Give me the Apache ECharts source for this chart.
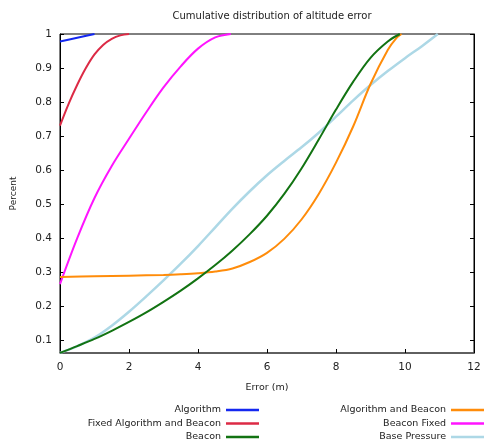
<!DOCTYPE html>
<html>
<head>
<meta charset="utf-8">
<script src="https://cdn.jsdelivr.net/npm/echarts@6/dist/echarts.min.js"></script>
<style>
  html, body { margin: 0; padding: 0; background: #fff; }
  #chart { width: 484px; height: 445px; }
</style>
</head>
<body>
<div id="chart"></div>
<script>
// Cumulative distribution of altitude error, one [error (m), fraction] list per method
const seriesNames = [
  'Algorithm',
  'Fixed Algorithm and Beacon',
  'Beacon',
  'Algorithm and Beacon',
  'Beacon Fixed',
  'Base Pressure'
];

const algorithm = [[0, 0.978], [0.5, 0.989], [1, 1.0]];

const fixedAlgorithmAndBeacon = [
  [0, 0.731], [0.25, 0.795], [0.5, 0.851], [0.75, 0.900], [1, 0.940],
  [1.25, 0.968], [1.5, 0.986], [1.75, 0.996], [2, 1.0]
];

const beacon = [
  [0, 0.063], [0.5, 0.083], [1, 0.104], [1.5, 0.128], [2, 0.154], [2.5, 0.182],
  [3, 0.213], [3.5, 0.246], [4, 0.282], [4.5, 0.321], [5, 0.364], [5.5, 0.412],
  [6, 0.466], [6.5, 0.530], [7, 0.605], [7.5, 0.690], [8, 0.778], [8.5, 0.860],
  [9, 0.930], [9.5, 0.978], [9.85, 1.0]
];

const algorithmAndBeacon = [
  [0, 0.286], [1, 0.288], [2, 0.290], [3, 0.292], [3.5, 0.294], [4, 0.297],
  [4.5, 0.302], [5, 0.311], [5.5, 0.330], [6, 0.357], [6.5, 0.398], [7, 0.455],
  [7.5, 0.530], [8, 0.622], [8.5, 0.729], [9, 0.853], [9.5, 0.953], [9.75, 0.988],
  [9.9, 1.0]
];

const beaconFixed = [
  [0, 0.265], [0.5, 0.400], [1, 0.518], [1.5, 0.612], [2, 0.692], [2.5, 0.770],
  [3, 0.843], [3.5, 0.905], [4, 0.957], [4.5, 0.990], [4.95, 1.0]
];

const basePressure = [
  [0, 0.063], [0.5, 0.083], [1, 0.108], [1.5, 0.143], [2, 0.184], [2.5, 0.229],
  [3, 0.276], [3.5, 0.325], [4, 0.377], [4.5, 0.432], [5, 0.487], [5.5, 0.538],
  [6, 0.585], [6.5, 0.627], [7, 0.667], [7.5, 0.710], [8, 0.757], [8.5, 0.805],
  [9, 0.850], [9.5, 0.891], [10, 0.929], [10.5, 0.965], [10.95, 1.0]
];

const yTicks = [0.1, 0.2, 0.3, 0.4, 0.5, 0.6, 0.7, 0.8, 0.9, 1];

const seriesData = [algorithm, fixedAlgorithmAndBeacon, beacon, algorithmAndBeacon, beaconFixed, basePressure];
const colors = ['#1428f0', '#dc2a45', '#127312', '#ff8c0a', '#ff14ff', '#add8e6'];
const widths = [2, 2, 2, 2, 2, 2.5];

const FONT = 'DejaVu Sans';
const chart = echarts.init(document.getElementById('chart'), null, { renderer: 'canvas' });

const legendText = { fontFamily: FONT, fontSize: 9.5, color: '#222', lineHeight: 12 };
const legendCommon = {
  orient: 'vertical',
  align: 'right',
  icon: 'rect',
  itemWidth: 33,
  itemHeight: 2.5,
  itemGap: 1.5,
  padding: 0,
  height: 60,
  textStyle: legendText,
  selectedMode: false,
  top: 404
};

chart.setOption({
  animation: false,
  backgroundColor: '#fff',
  color: colors,
  title: {
    text: 'Cumulative distribution of altitude error',
    left: 267,
    textAlign: 'center',
    top: 6,
    textStyle: { fontFamily: FONT, fontSize: 10, fontWeight: 'normal', color: '#222' }
  },
  legend: [
    Object.assign({}, legendCommon, { data: seriesNames.slice(0, 3), right: 225 }),
    Object.assign({}, legendCommon, { data: seriesNames.slice(3), right: 0 })
  ],
  grid: {
    left: 60, right: 10, top: 34, bottom: 92,
    show: true, borderColor: '#000', borderWidth: 1, containLabel: false
  },
  xAxis: {
    type: 'value',
    min: 0, max: 12, interval: 2,
    name: 'Error (m)',
    nameLocation: 'middle',
    nameGap: 30,
    nameTextStyle: { fontFamily: FONT, fontSize: 9.5, color: '#222' },
    axisLine: { show: true, lineStyle: { color: '#555', width: 1.5 } },
    axisTick: { show: true, inside: true, length: 4, lineStyle: { color: '#000' } },
    axisLabel: { fontFamily: FONT, fontSize: 10.5, color: '#222', margin: 9 },
    splitLine: { show: false }
  },
  yAxis: [
    {
      type: 'value',
      min: 0.0627, max: 1,
      name: 'Percent',
      nameLocation: 'middle',
      nameGap: 42,
      nameTextStyle: { fontFamily: FONT, fontSize: 9, color: '#222' },
      axisLine: { show: true, lineStyle: { color: '#000' } },
      axisTick: { show: true, inside: true, length: 4, customValues: yTicks, lineStyle: { color: '#000' } },
      axisLabel: {
        fontFamily: FONT, fontSize: 10.5, color: '#222', margin: 8,
        customValues: yTicks,
        formatter: v => String(Math.round(v * 10) / 10)
      },
      splitLine: { show: false }
    },
    {
      type: 'value',
      position: 'right',
      min: 0.0627, max: 1,
      axisLine: { show: true, lineStyle: { color: '#000' } },
      axisTick: { show: true, inside: true, length: 4, customValues: yTicks, lineStyle: { color: '#000' } },
      axisLabel: { show: false },
      splitLine: { show: false }
    }
  ],
  series: seriesNames.map((name, i) => ({
    name: name,
    type: 'line',
    data: seriesData[i],
    smooth: 0.35,
    showSymbol: false,
    symbol: 'none',
    clip: true,
    lineStyle: { width: widths[i], color: colors[i] },
    itemStyle: { color: colors[i] },
    z: 10 - i
  }))
});
</script>
</body>
</html>
